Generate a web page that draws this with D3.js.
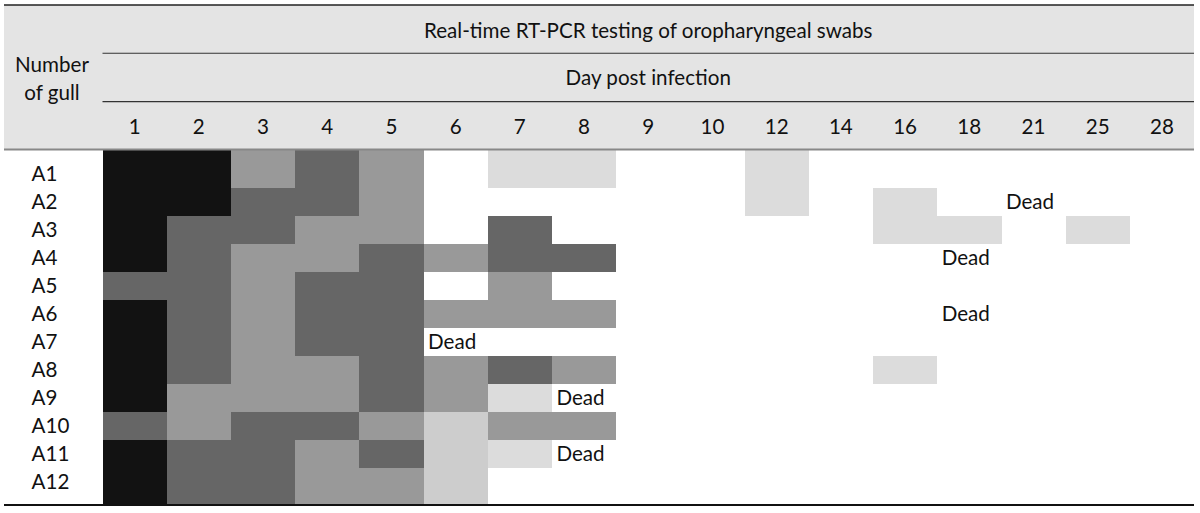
<!DOCTYPE html>
<html>
<head>
<meta charset="utf-8">
<script src="https://cdn.jsdelivr.net/npm/d3@7"></script>
<style>
  html, body { margin: 0; padding: 0; background: #fff; }
  svg { display: block; }
  text { font-family: Lato, "Open Sans", sans-serif; fill: #111; }
</style>
</head>
<body>
<svg id="chart" width="1200" height="513"></svg>
<script>
// ---- data ----
const title = "Real-time RT-PCR testing of oropharyngeal swabs";
const subTitle = "Day post infection";
const rowHeaderLines = ["Number", "of gull"];
const days = ["1","2","3","4","5","6","7","8","9","10","12","14","16","18","21","25","28"];
const gulls = ["A1","A2","A3","A4","A5","A6","A7","A8","A9","A10","A11","A12"];
// level per gull per day (0 = negative ... 5 = strongest)
const levelA1  = [5,5,3,4,3,0,1,1,0,0,1,0,0,0,0,0,0];
const levelA2  = [5,5,4,4,3,0,0,0,0,0,1,0,1,0,0,0,0];
const levelA3  = [5,4,4,3,3,0,4,0,0,0,0,0,1,1,0,1,0];
const levelA4  = [5,4,3,3,4,3,4,4,0,0,0,0,0,0,0,0,0];
const levelA5  = [4,4,3,4,4,0,3,0,0,0,0,0,0,0,0,0,0];
const levelA6  = [5,4,3,4,4,3,3,3,0,0,0,0,0,0,0,0,0];
const levelA7  = [5,4,3,4,4,0,0,0,0,0,0,0,0,0,0,0,0];
const levelA8  = [5,4,3,3,4,3,4,3,0,0,0,0,1,0,0,0,0];
const levelA9  = [5,3,3,3,4,3,1,0,0,0,0,0,0,0,0,0,0];
const levelA10 = [4,3,4,4,3,2,3,3,0,0,0,0,0,0,0,0,0];
const levelA11 = [5,4,4,3,4,2,1,0,0,0,0,0,0,0,0,0,0];
const levelA12 = [5,4,4,3,3,2,0,0,0,0,0,0,0,0,0,0,0];
const levels = [levelA1, levelA2, levelA3, levelA4, levelA5, levelA6,
                levelA7, levelA8, levelA9, levelA10, levelA11, levelA12];
// deaths: gull, day
const deadGull = ["A2","A4","A6","A7","A9","A11"];
const deadDay  = ["21","18","18","6","8","8"];
const levelColors = ["#ffffff","#dcdcdc","#cdcdcd","#999999","#666666","#121212"];

// ---- layout ----
const svg = d3.select("#chart");
const left = 4, right = 1194, gridLeft = 102.5;
const headTop = 5, headBottom = 149.5, bodyBottom = 505;
const rowsTop = 159.7, rowsBottom = 495.7;

const x = d3.scaleBand().domain(days).range([gridLeft, right]).padding(0);
const y = d3.scaleBand().domain(gulls).range([rowsTop, rowsBottom]).padding(0);
const color = d3.scaleOrdinal().domain(d3.range(levelColors.length)).range(levelColors);

// header background
svg.append("rect").attr("x", left).attr("y", headTop).attr("width", right - left)
  .attr("height", headBottom - headTop).attr("fill", "#e4e4e4");

// cells
const cells = [];
gulls.forEach((g, i) => days.forEach((d, j) => cells.push({g, d, v: levels[i][j], i})));
svg.append("g").selectAll("rect").data(cells.filter(c => c.v > 0)).join("rect")
  .attr("x", c => x(c.d))
  .attr("y", c => c.i === 0 ? headBottom : y(c.g))
  .attr("width", x.bandwidth() + 0.3)
  .attr("height", c => {
    let top = c.i === 0 ? headBottom : y(c.g);
    let bot = c.i === gulls.length - 1 ? bodyBottom : y(c.g) + y.bandwidth();
    return bot - top + 0.3;
  })
  .attr("fill", c => color(c.v))
  .attr("shape-rendering", "crispEdges");

// header lines
svg.append("line").attr("x1", left).attr("x2", right).attr("y1", headTop).attr("y2", headTop)
  .attr("stroke", "#222").attr("stroke-width", 1.6);
svg.append("line").attr("x1", gridLeft).attr("x2", right).attr("y1", 53.3).attr("y2", 53.3)
  .attr("stroke", "#333").attr("stroke-width", 1.1);
svg.append("line").attr("x1", gridLeft).attr("x2", right).attr("y1", 101.6).attr("y2", 101.6)
  .attr("stroke", "#333").attr("stroke-width", 1.1);
svg.append("line").attr("x1", left).attr("x2", right).attr("y1", headBottom).attr("y2", headBottom)
  .attr("stroke", "#888").attr("stroke-width", 2);
svg.append("line").attr("x1", left).attr("x2", right).attr("y1", bodyBottom).attr("y2", bodyBottom)
  .attr("stroke", "#111").attr("stroke-width", 2);

const fs = 20.6;
const midX = (gridLeft + right) / 2;
svg.append("text").attr("x", midX).attr("y", 37.6).attr("text-anchor", "middle")
  .attr("font-size", fs).text(title);
svg.append("text").attr("x", midX).attr("y", 85.2).attr("text-anchor", "middle")
  .attr("font-size", fs).text(subTitle);
svg.append("g").selectAll("text").data(rowHeaderLines).join("text")
  .attr("x", 52).attr("y", (d, i) => 71.8 + i * 27.8)
  .attr("text-anchor", "middle").attr("font-size", fs).text(d => d);

// column labels (axis)
const xAxis = d3.axisTop(x).tickSize(0).tickPadding(0);
const gx = svg.append("g").attr("transform", "translate(0,133.5)").call(xAxis);
gx.select(".domain").remove();
gx.selectAll("text").attr("font-size", fs).attr("font-family", "Lato, 'Open Sans', sans-serif")
  .attr("fill", "#111").attr("dy", 0);

// row labels (axis)
const yAxis = d3.axisLeft(y).tickSize(0).tickPadding(0);
const gy = svg.append("g").attr("transform", "translate(31.5,0)").call(yAxis);
gy.select(".domain").remove();
gy.selectAll("text").attr("text-anchor", "start").attr("font-size", fs)
  .attr("font-family", "Lato, 'Open Sans', sans-serif").attr("fill", "#111")
  .attr("dy", "0.36em");

// Dead labels
svg.append("g").selectAll("text").data(deadGull.map((g, i) => ({g, d: deadDay[i]}))).join("text")
  .attr("x", c => x(c.d) + 4.5)
  .attr("y", c => y(c.g) + y.bandwidth() / 2)
  .attr("dy", "0.36em")
  .attr("font-size", fs).text("Dead");
</script>
</body>
</html>
